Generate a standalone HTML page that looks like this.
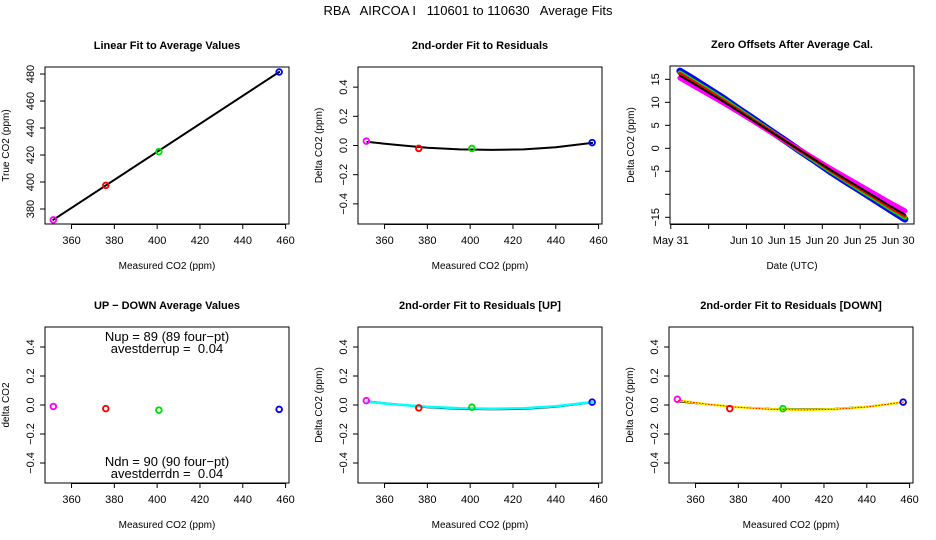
<!DOCTYPE html>
<html><head><meta charset="utf-8"><style>
html,body{margin:0;padding:0;background:#fff}
svg{display:block;font-family:"Liberation Sans",Arial,sans-serif}
</style></head><body>
<svg id="c" width="936" height="540" viewBox="0 0 936 540">
<rect width="936" height="540" fill="#fff"/>
<text x="468" y="15" text-anchor="middle" font-size="13" style="white-space:pre">RBA   AIRCOA I   110601 to 110630   Average Fits</text>
</svg>
<script>
// ---- data ----
const calX = [351.5, 376, 400.8, 457];
const calColors = ['#ff00ff', '#ff0000', '#00dd00', '#0000ff'];
const trueCO2 = [372, 397.5, 422.5, 481.5];
const residuals = [0.03, -0.02, -0.02, 0.02];
const fitX = [352, 365, 380, 395, 410, 425, 440, 457];
const fitY = [0.025, 0.005, -0.015, -0.027, -0.03, -0.027, -0.012, 0.018];
const upResid = [0.03, -0.02, -0.015, 0.02];
const upFitY = [0.022, 0.004, -0.012, -0.022, -0.026, -0.022, -0.008, 0.02];
const dnResid = [0.04, -0.025, -0.025, 0.02];
const dnFitY = [0.032, 0.006, -0.016, -0.03, -0.034, -0.03, -0.014, 0.02];
const udDiff = [-0.01, -0.025, -0.035, -0.03];
const days = [1.2, 3, 5, 7, 9, 11, 13, 15, 17, 19, 21, 23, 25, 27, 29, 30.9];
const zeroBlack = [15.8, 14.1, 12.1, 10.1, 8.0, 5.9, 3.8, 1.7, -0.4, -2.5, -4.6, -6.6, -8.6, -10.6, -12.6, -14.4];
const zeroBlue = [16.8, 15.0, 12.9, 10.8, 8.5, 6.3, 4.0, 1.8, -0.5, -2.7, -5.0, -7.1, -9.2, -11.3, -13.4, -15.4];
const zeroGreen = [16.4, 14.6, 12.6, 10.5, 8.3, 6.1, 3.9, 1.7, -0.5, -2.6, -4.8, -6.9, -9.0, -11.0, -13.1, -15.0];
const zeroRed = [16.2, 14.4, 12.4, 10.3, 8.2, 6.0, 3.9, 1.7, -0.4, -2.5, -4.7, -6.8, -8.8, -10.8, -12.9, -14.7];
const zeroMagenta = [15.3, 13.6, 11.7, 9.8, 7.8, 5.8, 3.7, 1.7, -0.3, -2.3, -4.3, -6.2, -8.1, -10.0, -11.9, -13.6];
const xTicks = [360, 380, 400, 420, 440, 460];
const residTicks = [0.4, 0.2, 0.0, -0.2, -0.4];
const residTickLabels = ['0.4', '0.2', '0.0', '\u22120.2', '\u22120.4'];
const p1Ticks = [380, 400, 420, 440, 460, 480];
const zTicks = [15, 10, 5, 0, -5, -10, -15];
const zTickLabels = ['15', '10', '5', '0', '\u22125', '', '\u221215'];
const dTicks = [0, 5, 10, 15, 20, 25, 30];
const dTickLabels = ['May 31', '', 'Jun 10', 'Jun 15', 'Jun 20', 'Jun 25', 'Jun 30'];

const NS = 'http://www.w3.org/2000/svg';
const svg = document.getElementById('c');
function mk(tag, attrs, parent, txt) {
  const e = document.createElementNS(NS, tag);
  for (const k in attrs) e.setAttribute(k, attrs[k]);
  if (txt !== undefined) e.textContent = txt;
  (parent || svg).appendChild(e);
  return e;
}
const W = 244;
function panel(name, L, T, B, xmin, xmax, ymin, ymax) {
  const g = mk('g', {});
  
  
  const sx = v => L + (v - xmin) / (xmax - xmin) * W;
  const sy = v => B - (v - ymin) / (ymax - ymin) * (B - T);
  const box = mk('rect', {x: L, y: T, width: W, height: B - T, fill: 'none', stroke: '#000', 'stroke-width': 1}, g);
  
  
  return {g, sx, sy, L, T, B};
}
function xAxis(p, ticks, labels, title) {
  const ax = mk('g', {}, p.g);
  
  
  mk('line', {x1: p.sx(ticks[0]), x2: p.sx(ticks[ticks.length - 1]), y1: p.B + 0.5, y2: p.B + 0.5, stroke: '#000'}, ax);
  ticks.forEach((t, i) => {
    const x = p.sx(t);
    mk('line', {x1: x, x2: x, y1: p.B, y2: p.B + 5, stroke: '#000'}, ax);
    const lb = mk('text', {x: x, y: p.B + 20, 'text-anchor': 'middle', 'font-size': 11}, ax, labels[i]);
    
    
  });
  const tt = mk('text', {x: p.L + W / 2, y: p.B + 45, 'text-anchor': 'middle', 'font-size': 10}, ax, title);
  
  
}
function yAxis(p, ticks, labels, title) {
  const ax = mk('g', {}, p.g);
  
  
  ticks.forEach((t, i) => {
    const y = p.sy(t);
    mk('line', {x1: p.L - 5, x2: p.L, y1: y, y2: y, stroke: '#000'}, ax);
    const lx = p.L - 11;
    const lb = mk('text', {x: lx, y: y, 'text-anchor': 'middle', 'font-size': 11, transform: `rotate(-90 ${lx} ${y})`}, ax, labels[i]);
    
    
  });
  const tx = p.L - 36, ty = (p.T + p.B) / 2;
  const tt = mk('text', {x: tx, y: ty, 'text-anchor': 'middle', 'font-size': 10, transform: `rotate(-90 ${tx} ${ty})`}, ax, title);
  
  
}
function title(p, txt) {
  const t = mk('text', {x: p.L + W / 2, y: p.T - 18, 'text-anchor': 'middle', 'font-size': 11, 'font-weight': 'bold'}, p.g, txt);
  
  
}
function points(p, xs, ys) {
  xs.forEach((x, i) => {
    const c = mk('circle', {cx: p.sx(x), cy: p.sy(ys[i]), r: 2.8, fill: 'none', stroke: calColors[i], 'stroke-width': 1.9}, p.g);
    
    
  });
}
function line(p, xs, ys, color, w, name, dash) {
  const pts = xs.map((x, i) => p.sx(x).toFixed(1) + ',' + p.sy(ys[i]).toFixed(1)).join(' ');
  const a = {points: pts, fill: 'none', stroke: color, 'stroke-width': w, 'stroke-linejoin': 'round', 'stroke-linecap': 'round'};
  if (dash) a['stroke-dasharray'] = dash;
  const l = mk('polyline', a, p.g);
  
  
}
const XMIN = 347.6, XMAX = 461.6, RMIN = -0.538, RMAX = 0.538;
const xl = xTicks.map(String);

// Panel 1
const p1 = panel('linear-fit-panel', 45, 67, 224, XMIN, XMAX, 368.9, 485.2);
title(p1, 'Linear Fit to Average Values');
xAxis(p1, xTicks, xl, 'Measured CO2 (ppm)');
yAxis(p1, p1Ticks, p1Ticks.map(String), 'True CO2 (ppm)');
line(p1, [calX[0], calX[3]], [trueCO2[0], trueCO2[3]], '#000', 2, 'linear-fit-line');
points(p1, calX, trueCO2);

// Panel 2
const p2 = panel('residual-fit-panel', 358, 67, 224, XMIN, XMAX, RMIN, RMAX);
title(p2, '2nd-order Fit to Residuals');
xAxis(p2, xTicks, xl, 'Measured CO2 (ppm)');
yAxis(p2, residTicks, residTickLabels, 'Delta CO2 (ppm)');
line(p2, fitX, fitY, '#000', 2, 'residual-fit-curve');
points(p2, calX, residuals);

// Panel 3
const p3 = panel('zero-offsets-panel', 670, 66, 224, -0.1, 32.1, -16.46, 17.9);
title(p3, 'Zero Offsets After Average Cal.');
xAxis(p3, dTicks, dTickLabels, 'Date (UTC)');
yAxis(p3, zTicks, zTickLabels, 'Delta CO2 (ppm)');
line(p3, days, zeroBlue, '#0000ff', 7, 'zero-series-blue');
line(p3, days, zeroGreen, '#00dd00', 5, 'zero-series-green');
line(p3, days, zeroMagenta, '#ff00ff', 5, 'zero-series-magenta');
line(p3, days, zeroRed, '#ff0000', 3.5, 'zero-series-red');
line(p3, days, zeroBlack, '#000', 2, 'zero-series-black');

// Panel 4
const p4 = panel('up-down-panel', 45, 327, 483, XMIN, XMAX, RMIN, RMAX);
title(p4, 'UP \u2212 DOWN Average Values');
xAxis(p4, xTicks, xl, 'Measured CO2 (ppm)');
yAxis(p4, residTicks, residTickLabels, 'delta CO2');
points(p4, calX, udDiff);
[['Nup = 89 (89 four\u2212pt)', 341, 'nup-label'], ['avestderrup =  0.04', 353, 'stderr-up-label'],
 ['Ndn = 90 (90 four\u2212pt)', 466, 'ndn-label'], ['avestderrdn =  0.04', 478, 'stderr-down-label']].forEach(a => {
  const t = mk('text', {x: 167, y: a[1], 'text-anchor': 'middle', 'font-size': 13, style: 'white-space:pre'}, p4.g, a[0]);
  
  
});

// Panel 5
const p5 = panel('residual-up-panel', 358, 327, 483, XMIN, XMAX, RMIN, RMAX);
title(p5, '2nd-order Fit to Residuals [UP]');
xAxis(p5, xTicks, xl, 'Measured CO2 (ppm)');
yAxis(p5, residTicks, residTickLabels, 'Delta CO2 (ppm)');
line(p5, fitX, fitY, '#000', 2, 'residual-fit-curve');
line(p5, fitX, upFitY, '#00ffff', 2.5, 'up-fit-curve');
points(p5, calX, upResid);

// Panel 6
const p6 = panel('residual-down-panel', 669, 327, 483, XMIN, XMAX, RMIN, RMAX);
title(p6, '2nd-order Fit to Residuals [DOWN]');
xAxis(p6, xTicks, xl, 'Measured CO2 (ppm)');
yAxis(p6, residTicks, residTickLabels, 'Delta CO2 (ppm)');
line(p6, fitX, fitY, '#000', 2, 'residual-fit-curve');
line(p6, fitX, dnFitY, '#ffff00', 2.5, 'down-fit-curve');
line(p6, fitX, dnFitY, '#ff0000', 1, 'down-fit-dots', '1 2');
points(p6, calX, dnResid);
</script>
</body></html>
